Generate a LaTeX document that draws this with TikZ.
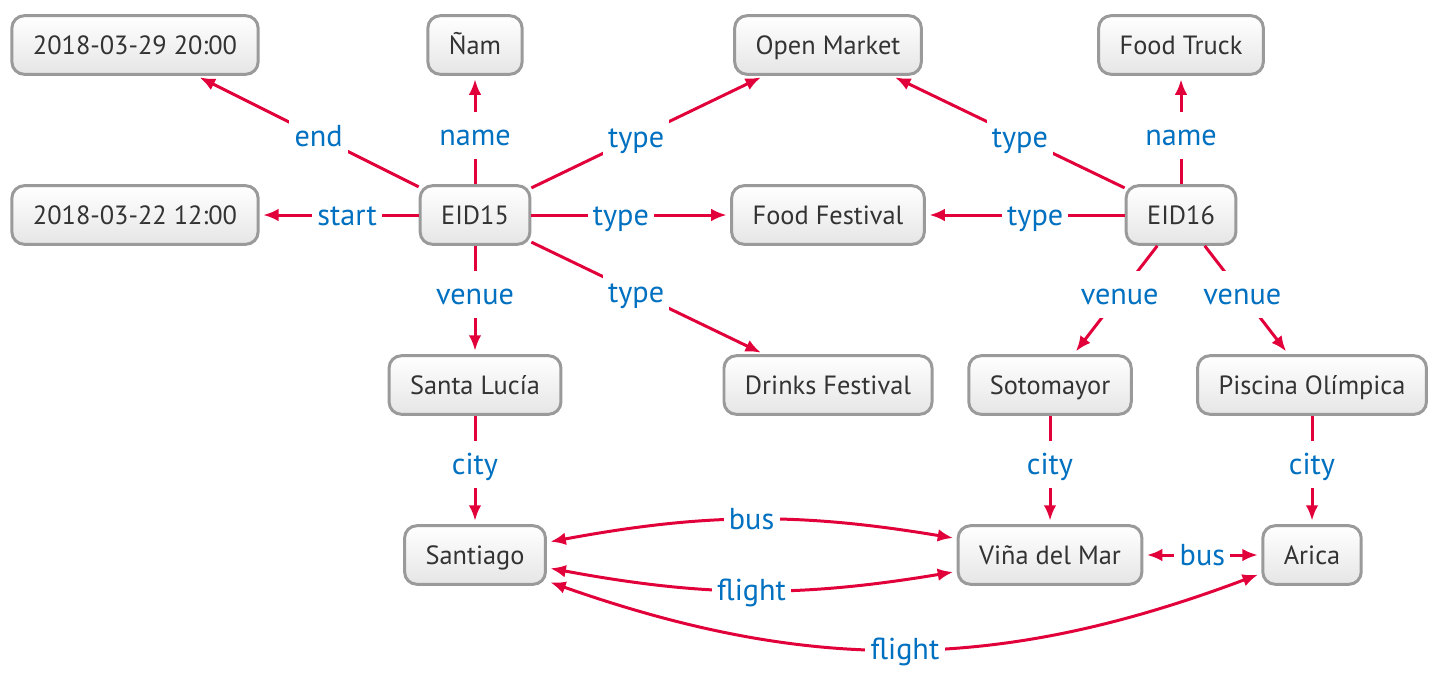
\documentclass[tikz,border=0pt]{standalone}
\usepackage{fontspec}
\setmainfont{PT Sans}
\usetikzlibrary{arrows.meta}
\definecolor{rouge}{HTML}{E2003A}
\definecolor{bleu}{HTML}{0070C0}
\definecolor{gristexte}{HTML}{333333}
\definecolor{grisbord}{HTML}{9A9A9A}
\begin{document}
\begin{tikzpicture}
		% Styles
		\tikzstyle{valeur}=[draw=grisbord,line width=0.85pt,rounded corners=3.5pt,top color=white,bottom color=black!10,text=gristexte,font=\fontsize{7.5}{9}\selectfont,minimum height=0.56cm,inner xsep=0.21cm,text height=1.55ex,text depth=0.45ex]
		\tikzstyle{lien}=[->,>={Latex[length=4.4pt,width=3.6pt]},draw=rouge,line width=0.85pt,shorten >=1pt]
		\tikzstyle{lienbi}=[<->,>={Latex[length=4.4pt,width=3.6pt]},draw=rouge,line width=0.85pt,shorten >=1pt,shorten <=1pt]
		\tikzstyle{etiq}=[fill=white,text=bleu,font=\fontsize{8.6}{10}\selectfont,inner sep=1.5pt,text height=1.6ex,text depth=0.45ex]
		% Dimensions
		\def\DistanceInterNiveaux{1.7}
		\def\Haut{-0.45}
		\def\NiveauA{\Haut}
		\def\NiveauB{\Haut-(1)*\DistanceInterNiveaux}
		\def\NiveauC{\Haut-(2)*\DistanceInterNiveaux}
		\def\NiveauD{\Haut-(3)*\DistanceInterNiveaux}
		\useasboundingbox (0,0) rectangle (14.53,-6.81);
		% Noeuds
		\node[valeur] (Fin) at (1.35,{\NiveauA}) {2018-03-29 20:00};
		\node[valeur] (Nom) at (4.75,{\NiveauA}) {Ñam};
		\node[valeur] (OpenM) at (8.28,{\NiveauA}) {Open Market};
		\node[valeur] (Truck) at (11.81,{\NiveauA}) {Food Truck};
		\node[valeur] (Debut) at (1.35,{\NiveauB}) {2018-03-22 12:00};
		\node[valeur] (EID15) at (4.75,{\NiveauB}) {EID15};
		\node[valeur] (FoodF) at (8.28,{\NiveauB}) {Food Festival};
		\node[valeur] (EID16) at (11.81,{\NiveauB}) {EID16};
		\node[valeur] (Lucia) at (4.75,{\NiveauC}) {Santa Lucía};
		\node[valeur] (Drinks) at (8.28,{\NiveauC}) {Drinks Festival};
		\node[valeur] (Soto) at (10.50,{\NiveauC}) {Sotomayor};
		\node[valeur] (Piscina) at (13.12,{\NiveauC}) {Piscina Olímpica};
		\node[valeur] (Santiago) at (4.75,{\NiveauD}) {Santiago};
		\node[valeur] (Vina) at (10.50,{\NiveauD}) {Viña del Mar};
		\node[valeur] (Arica) at (13.12,{\NiveauD}) {Arica};
		
		% Arcs
		\draw[lien] (EID15) -- node[etiq,pos=0.45] {end} (Fin);
		\draw[lien] (EID15) -- node[etiq,pos=0.45] {name} (Nom);
		\draw[lien] (EID15) -- node[etiq,pos=0.45] {type} (OpenM);
		\draw[lien] (EID15) -- node[etiq,pos=0.45] {start} (Debut);
		\draw[lien] (EID15) -- node[etiq,pos=0.45] {type} (FoodF);
		\draw[lien] (EID15) -- node[etiq,pos=0.45] {venue} (Lucia);
		\draw[lien] (EID15) -- node[etiq,pos=0.45] {type} (Drinks);
		\draw[lien] (EID16) -- node[etiq,pos=0.45] {type} (OpenM);
		\draw[lien] (EID16) -- node[etiq,pos=0.45] {name} (Truck);
		\draw[lien] (EID16) -- node[etiq,pos=0.45] {type} (FoodF);
		\draw[lien] (EID16) -- node[etiq,pos=0.45] {venue} (Soto);
		\draw[lien] (EID16) -- node[etiq,pos=0.45] {venue} (Piscina);
		\draw[lien] (Lucia) -- node[etiq,pos=0.45] {city} (Santiago);
		\draw[lien] (Soto) -- node[etiq,pos=0.45] {city} (Vina);
		\draw[lien] (Piscina) -- node[etiq,pos=0.45] {city} (Arica);
		\draw[lienbi] (Santiago) to[bend left=10] node[etiq] {bus} (Vina);
		\draw[lienbi] (Santiago) to[bend right=10] node[etiq] {flight} (Vina);
		\draw[lienbi] (Vina) -- node[etiq] {bus} (Arica);
		\draw[lienbi] (Santiago) to[bend right=20] node[etiq] {flight} (Arica);
		
\end{tikzpicture}
\end{document}
